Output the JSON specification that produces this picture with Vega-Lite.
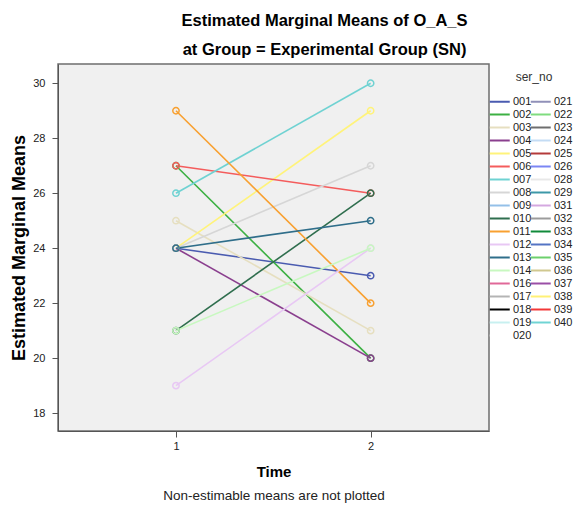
{
  "$schema": "https://vega.github.io/schema/vega-lite/v6.json",
  "width": 431,
  "height": 367,
  "autosize": {"type": "none"},
  "padding": {"left": 58, "top": 64, "right": 90, "bottom": 79},
  "background": "white",
  "config": {
    "font": "Liberation Sans",
    "view": {"fill": "#f0f0f0", "stroke": "#6e6e6e", "strokeWidth": 1.5},
    "axis": {
      "domainColor": "#555555",
      "tickColor": "#555555",
      "labelColor": "#222222",
      "labelFontSize": 11,
      "labelFont": "Liberation Sans",
      "titleFont": "Liberation Sans",
      "titleFontSize": 15,
      "titleFontWeight": "bold",
      "titleColor": "#000000",
      "grid": false
    }
  },
  "title": {
    "text": ["Estimated Marginal Means of O_A_S", "at Group = Experimental Group (SN)"],
    "font": "Liberation Sans",
    "fontSize": 16.5,
    "fontWeight": "bold",
    "color": "#000000",
    "lineHeight": 29,
    "anchor": "middle",
    "dx": 51,
    "offset": 6
  },
  "data": {
    "values": [
      {"ser_no": "001", "Time": 1, "mean": 24}, {"ser_no": "001", "Time": 2, "mean": 23},
      {"ser_no": "002", "Time": 1, "mean": 27}, {"ser_no": "002", "Time": 2, "mean": 20},
      {"ser_no": "003", "Time": 1, "mean": 25}, {"ser_no": "003", "Time": 2, "mean": 21},
      {"ser_no": "004", "Time": 1, "mean": 24}, {"ser_no": "004", "Time": 2, "mean": 20},
      {"ser_no": "005", "Time": 1, "mean": 24}, {"ser_no": "005", "Time": 2, "mean": 29},
      {"ser_no": "006", "Time": 1, "mean": 27}, {"ser_no": "006", "Time": 2, "mean": 26},
      {"ser_no": "007", "Time": 1, "mean": 26}, {"ser_no": "007", "Time": 2, "mean": 30},
      {"ser_no": "008", "Time": 1, "mean": 24}, {"ser_no": "008", "Time": 2, "mean": 27},
      {"ser_no": "010", "Time": 1, "mean": 21}, {"ser_no": "010", "Time": 2, "mean": 26},
      {"ser_no": "011", "Time": 1, "mean": 29}, {"ser_no": "011", "Time": 2, "mean": 22},
      {"ser_no": "012", "Time": 1, "mean": 19}, {"ser_no": "012", "Time": 2, "mean": 24},
      {"ser_no": "013", "Time": 1, "mean": 24}, {"ser_no": "013", "Time": 2, "mean": 25},
      {"ser_no": "014", "Time": 1, "mean": 21}, {"ser_no": "014", "Time": 2, "mean": 24}
    ]
  },
  "layer": [
    {
      "mark": {"type": "line", "strokeWidth": 1.6},
      "encoding": {
        "x": {
          "field": "Time", "type": "quantitative",
          "scale": {"domain": [0.394, 2.608], "nice": false, "zero": false},
          "axis": {"values": [1, 2], "format": "d", "title": "Time", "tickSize": 6, "labelPadding": 3, "titlePadding": 13}
        },
        "y": {
          "field": "mean", "type": "quantitative",
          "scale": {"domain": [17.35, 30.7], "nice": false, "zero": false},
          "axis": {"values": [18, 20, 22, 24, 26, 28, 30], "title": "Estimated Marginal Means", "titleFontSize": 18, "tickSize": 6, "labelPadding": 7, "titlePadding": 4}
        },
        "color": {
          "field": "ser_no", "type": "nominal",
          "scale": {
            "domain": ["001","002","003","004","005","006","007","008","009","010","011","012","013","014","016","017","018","019","020","021","022","023","024","025","026","028","029","031","032","033","034","035","036","037","038","039","040"],
            "range": ["#4a5bb0","#3cb043","#e6dfc0","#8a3f8e","#fff37a","#f45c5c","#6fd2d2","#d6d6d6","#94c0e8","#2f6e4e","#f8a030","#e8c8f4","#2f6e8a","#c8f8c0","#e06898","#b4b4b4","#000000","#c8f0f0","#ffffff","#9090b8","#7fdc7f","#6e6e6e","#c4dcf4","#b43a3a","#7b86f4","#e8e8e8","#3c98a8","#d4a8e0","#9c9c9c","#108a3a","#5474c4","#6cd06c","#d0c890","#9a4fa6","#fff176","#f23838","#70d4d4"]
          },
          "legend": {
            "title": "ser_no",
            "orient": "none",
            "legendX": 438,
            "legendY": 8,
            "columns": 2,
            "direction": "vertical",
            "symbolLimit": 100,
            "padding": 0,
            "titleAnchor": "middle",
            "titleFontWeight": "normal",
            "titleFontSize": 12,
            "titleColor": "#333333",
            "titlePadding": 10,
            "labelFontSize": 11,
            "labelColor": "#222222",
            "symbolType": "M-2.2,0H1",
            "symbolSize": 156,
            "symbolStrokeWidth": 2,
            "symbolFillColor": "transparent",
            "labelOffset": 2,
            "rowPadding": -0.6,
            "columnPadding": -6
          }
        }
      }
    },
    {
      "mark": {"type": "point", "shape": "circle", "filled": false, "size": 40, "strokeWidth": 1.5, "opacity": 1},
      "encoding": {
        "x": {
          "field": "Time", "type": "quantitative",
          "axis": {"orient": "bottom", "title": "Non-estimable means are not plotted", "titleFontWeight": "normal", "titleFontSize": 13.5, "titleColor": "#222222", "labels": false, "ticks": false, "domain": false, "titlePadding": 57}
        },
        "y": {"field": "mean", "type": "quantitative"},
        "color": {"field": "ser_no", "type": "nominal", "legend": null}
      }
    }
  ],
  "resolve": {"axis": {"x": "independent"}}
}
